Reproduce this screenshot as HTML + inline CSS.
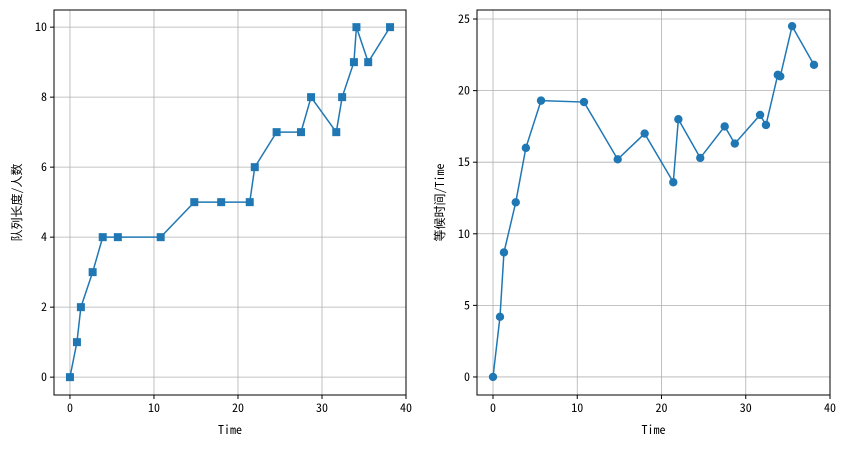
<!DOCTYPE html>
<html><head><meta charset="utf-8"><style>
body{margin:0;background:#fff}
svg text{font-family:"Noto Sans Mono CJK SC","Liberation Mono","Noto Sans CJK SC",monospace;font-size:12px;fill:#000}
</style></head><body>
<svg id="s" width="845" height="448" xmlns="http://www.w3.org/2000/svg"></svg>
<script>
const times=[0,0.83,1.3,2.7,3.9,5.7,10.8,14.8,18,21.4,22,24.6,27.5,28.7,31.7,32.4,33.8,34.1,35.5,38.1];
const queueLen=[0,1,2,3,4,4,4,5,5,5,6,7,7,8,7,8,9,10,9,10];
const waitTime=[0,4.2,8.7,12.2,16,19.3,19.2,15.2,17,13.6,18,15.3,17.5,16.3,18.3,17.6,21.1,21,24.5,21.8];
const xTicks=[0,10,20,30,40];
const leftYTicks=[0,2,4,6,8,10];
const rightYTicks=[0,5,10,15,20,25];
const NS="http://www.w3.org/2000/svg";
const svg=document.getElementById('s');
function mk(t,a,p){const e=document.createElementNS(NS,t);for(const k in a)e.setAttribute(k,a[k]);(p||svg).appendChild(e);return e;}
function panel(name,x0,x1,y0,y1,xmin,xmax,ymin,ymax,yTicks,ys,marker,ylabel){
  const g=mk('g',{});
  
  
  const sx=v=>x0+(v-xmin)/(xmax-xmin)*(x1-x0);
  const sy=v=>y1-(v-ymin)/(ymax-ymin)*(y1-y0);
  xTicks.forEach(t=>{const X=sx(t);
    const l=mk('line',{x1:X,x2:X,y1:y0,y2:y1,stroke:'#b0b0b0','stroke-width':0.8},g);
    
    mk('line',{x1:X,x2:X,y1:y1,y2:y1+4,stroke:'#000'},g);
    const tx=mk('text',{x:X,y:y1+17,'text-anchor':'middle'},g);tx.textContent=t;
    });
  yTicks.forEach(t=>{const Y=sy(t);
    const l=mk('line',{x1:x0,x2:x1,y1:Y,y2:Y,stroke:'#b0b0b0','stroke-width':0.8},g);
    
    mk('line',{x1:x0-4,x2:x0,y1:Y,y2:Y,stroke:'#000'},g);
    const tx=mk('text',{x:x0-7,y:Y+4,'text-anchor':'end'},g);tx.textContent=t;
    });
  const pts=times.map((t,i)=>sx(t)+','+sy(ys[i])).join(' ');
  const pl=mk('polyline',{points:pts,fill:'none',stroke:'#1f77b4','stroke-width':1.5},g);
  
  times.forEach((t,i)=>{const X=sx(t),Y=sy(ys[i]);let m;
    if(marker==='s')m=mk('rect',{x:X-4,y:Y-4,width:8,height:8,fill:'#1f77b4'},g);
    else m=mk('circle',{cx:X,cy:Y,r:4.2,fill:'#1f77b4'},g);
    });
  const fr=mk('rect',{x:x0,y:y0,width:x1-x0,height:y1-y0,fill:'none',stroke:'#000','stroke-width':1},g);
  
  const xl=mk('text',{x:(x0+x1)/2,y:y1+39,'text-anchor':'middle'},g);xl.textContent='Time';
  
  const yl=mk('text',{x:0,y:0,'text-anchor':'middle',transform:`translate(${x0-33},${(y0+y1)/2}) rotate(-90)`},g);yl.textContent=ylabel;
  
}
panel('left-panel-queue-length',54,406,10,395,-1.9,40,-0.51,10.49,leftYTicks,queueLen,'s','队列长度/人数');
panel('right-panel-wait-time',477,830,10,395,-1.9,40,-1.26,25.63,rightYTicks,waitTime,'o','等候时间/Time');
</script>
</body></html>
